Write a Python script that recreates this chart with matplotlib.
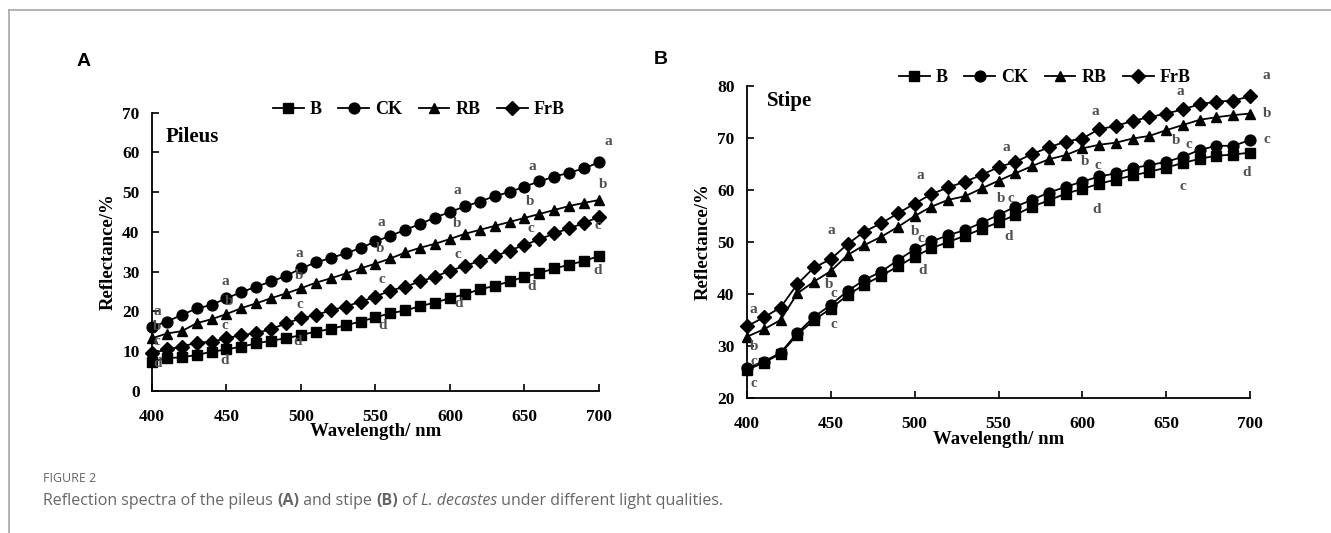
import matplotlib
matplotlib.use("Agg")
import matplotlib.pyplot as plt
from matplotlib.lines import Line2D

plt.rcParams['font.family'] = ['Liberation Serif', 'DejaVu Serif']
plt.rcParams['font.weight'] = 'bold'
plt.rcParams['axes.labelweight'] = 'bold'

# wavelength, nm
wl = [400, 410, 420, 430, 440, 450, 460, 470, 480, 490, 500, 510, 520, 530, 540, 550,
      560, 570, 580, 590, 600, 610, 620, 630, 640, 650, 660, 670, 680, 690, 700]
series_names = ['B', 'CK', 'RB', 'FrB']
markers = ['s', 'o', '^', 'D']

# Pileus reflectance (%)
B_p = [7.3, 8.2, 8.4, 9.0, 9.8, 10.4, 11.1, 11.9, 12.6, 13.2, 14.0, 14.9, 15.5, 16.5, 17.4, 18.5,
       19.5, 20.2, 21.3, 22.2, 23.3, 24.3, 25.5, 26.4, 27.5, 28.7, 29.6, 30.8, 31.7, 32.7, 33.9]
CK_p = [16.1, 17.4, 19.1, 20.7, 21.6, 23.3, 24.8, 26.2, 27.5, 28.9, 30.8, 32.3, 33.4, 34.6, 35.9, 37.6,
        39.0, 40.5, 42.0, 43.6, 45.0, 46.4, 47.6, 49.0, 50.0, 51.4, 52.7, 53.9, 54.9, 56.0, 57.5]
RB_p = [13.2, 14.4, 15.0, 17.0, 18.0, 19.3, 20.8, 22.0, 23.3, 24.5, 25.8, 27.2, 28.3, 29.5, 30.8, 32.0,
        33.3, 34.8, 36.0, 37.0, 38.2, 39.5, 40.5, 41.5, 42.5, 43.5, 44.5, 45.5, 46.5, 47.3, 48.0]
FrB_p = [9.4, 10.4, 11.1, 12.1, 12.3, 13.2, 14.0, 14.5, 15.5, 17.0, 18.2, 19.1, 20.2, 21.2, 22.4, 23.7,
         25.2, 26.2, 27.5, 28.7, 30.2, 31.4, 32.7, 33.8, 35.3, 36.7, 38.1, 39.6, 40.9, 42.2, 43.8]

# Stipe reflectance (%)
B_s = [25.4, 26.8, 28.5, 32.2, 35.0, 37.2, 39.8, 41.8, 43.5, 45.3, 47.2, 48.8, 50.0, 51.2, 52.5, 53.8,
       55.2, 56.8, 58.0, 59.3, 60.2, 61.2, 62.0, 62.8, 63.5, 64.3, 65.2, 66.0, 66.6, 66.8, 67.2]
CK_s = [25.8, 27.0, 28.7, 32.5, 35.6, 37.9, 40.6, 42.7, 44.3, 46.5, 48.6, 50.1, 51.3, 52.3, 53.7, 55.2,
        56.8, 58.1, 59.5, 60.6, 61.6, 62.6, 63.2, 64.2, 64.8, 65.4, 66.4, 67.7, 68.5, 68.5, 69.6]
RB_s = [31.8, 33.2, 35.0, 40.1, 42.4, 44.4, 47.5, 49.4, 51.0, 52.9, 55.0, 56.8, 58.1, 58.8, 60.3, 61.8,
        63.2, 64.6, 65.9, 66.7, 68.0, 68.7, 69.1, 69.9, 70.4, 71.5, 72.5, 73.5, 74.0, 74.4, 74.7]
FrB_s = [33.8, 35.5, 37.4, 41.9, 45.1, 46.7, 49.6, 52.0, 53.6, 55.5, 57.4, 59.2, 60.5, 61.6, 62.9, 64.4,
         65.4, 66.9, 68.2, 69.3, 69.9, 71.7, 72.3, 73.3, 74.0, 74.7, 75.5, 76.5, 77.0, 77.2, 78.0]

# significance letters (wavelength, reflectance, letter)
letters_p = [(403.5, 19.9, 'a'), (403.5, 16.1, 'b'), (403.5, 12.3, 'c'), (403.5, 6.9, 'd'),
             (449, 27.5, 'a'), (452, 22.4, 'b'), (449, 16.5, 'c'), (449, 7.7, 'd'),
             (499, 34.6, 'a'), (499, 29.1, 'b'), (499, 21.6, 'c'), (498, 12.3, 'd'),
             (554, 42.4, 'a'), (553, 35.9, 'b'), (554, 27.9, 'c'), (555, 16.3, 'd'),
             (605, 50.4, 'a'), (605, 42.0, 'b'), (605, 34.2, 'c'), (606, 22.0, 'd'),
             (655, 56.4, 'a'), (654, 47.6, 'b'), (654, 40.9, 'c'), (655, 26.2, 'd'),
             (706, 62.7, 'a'), (702.5, 51.8, 'b'), (699, 41.6, 'c'), (699, 30.3, 'd')]
letters_s = [(404, 37.0, 'a'), (404, 29.9, 'b'), (404, 27.0, 'c'), (404, 22.7, 'c'),
             (450, 52.2, 'a'), (449, 41.9, 'b'), (452, 40.1, 'c'), (452, 34.2, 'c'),
             (503.5, 62.7, 'a'), (500.5, 52.0, 'b'), (504, 50.7, 'c'), (504.5, 44.6, 'd'),
             (554.5, 68.2, 'a'), (551.5, 58.4, 'b'), (557.5, 58.4, 'c'), (556, 51.0, 'd'),
             (608, 75.1, 'a'), (601.5, 65.4, 'b'), (609, 64.8, 'c'), (608.5, 56.2, 'd'),
             (658.5, 78.9, 'a'), (656, 69.6, 'b'), (663.5, 68.7, 'c'), (660, 60.6, 'c'),
             (710, 82.1, 'a'), (710, 74.8, 'b'), (710, 69.8, 'c'), (698, 63.4, 'd')]

W, H = 1331, 533
fig = plt.figure(figsize=(W / 100, H / 100), dpi=100)


def px_axes(x0, x1, y_top, y_bot):
    return fig.add_axes([x0 / W, 1 - y_bot / H, (x1 - x0) / W, (y_bot - y_top) / H])


def draw_panel(ax, data, letters, ylim, yticks, title, title_pos, leg_center):
    for vals, m, name in zip(data, markers, series_names):
        ms = 6.8 if m == 'D' else 7.8
        ax.plot(wl, vals, color='black', lw=1.3, marker=m, ms=ms, label=name, clip_on=False)
    for x, y, s in letters:
        ax.text(x, y, s, color='#4f4f4f', fontsize=11, ha='center', va='center')
    ax.set_xlim(400, 700)
    ax.set_ylim(*ylim)
    ax.set_xticks([400, 450, 500, 550, 600, 650, 700])
    ax.set_yticks(yticks)
    for side in ['top', 'right']:
        ax.spines[side].set_visible(False)
    for side in ['left', 'bottom']:
        ax.spines[side].set_linewidth(1.3)
    ax.tick_params(axis='both', direction='in', length=5, width=1.2, labelsize=12.5)
    ax.tick_params(axis='x', pad=13)
    ax.tick_params(axis='y', pad=9)
    ax.set_xlabel('Wavelength/ nm', fontsize=13.5, fontweight='bold', labelpad=-1)
    ax.set_ylabel('Reflectance/%', fontsize=13.5, fontweight='bold', labelpad=4)
    ax.text(title_pos[0], title_pos[1], title, transform=ax.transAxes,
            fontsize=15, va='baseline', ha='left')
    ax.legend(loc='center', bbox_to_anchor=(leg_center[0] / W, 1 - leg_center[1] / H),
              bbox_transform=fig.transFigure, ncol=4, frameon=False,
              prop={'size': 13, 'weight': 'bold'},
              handlelength=1.7, handletextpad=0.35, columnspacing=0.9, borderpad=0)


axA = px_axes(152, 599, 112.7, 390.7)
draw_panel(axA, [B_p, CK_p, RB_p, FrB_p], letters_p, (0, 70), range(0, 71, 10),
           'Pileus', (0.031, 0.895), (419, 110))

axB = px_axes(747, 1250, 86, 398)
draw_panel(axB, [B_s, CK_s, RB_s, FrB_s], letters_s, (20, 80), range(20, 81, 10),
           'Stipe', (0.04, 0.937), (1045, 78))

# panel letters
fig.text(84 / W, 1 - 61 / H, 'A', family='Liberation Sans', fontsize=14, weight='bold',
         ha='center', va='center')
fig.text(661 / W, 1 - 60 / H, 'B', family='Liberation Sans', fontsize=14, weight='bold',
         ha='center', va='center')

# page frame
fig.add_artist(Line2D([9 / W, 1], [1 - 10 / H, 1 - 10 / H], transform=fig.transFigure,
                      color='#a6a6a6', lw=1.2))
fig.add_artist(Line2D([9 / W, 9 / W], [0, 1 - 10 / H], transform=fig.transFigure,
                      color='#a6a6a6', lw=1.2))

# caption
cap_color = '#666666'
fig.text(43 / W, 1 - 482 / H, 'FIGURE 2', family='Open Sans', fontsize=9, weight='normal',
         color=cap_color, va='baseline')
renderer = fig.canvas.get_renderer()
parts = [('Reflection spectra of the pileus ', 'normal', 'normal'),
         ('(A)', 'bold', 'normal'),
         (' and stipe ', 'normal', 'normal'),
         ('(B)', 'bold', 'normal'),
         (' of ', 'normal', 'normal'),
         ('L. decastes', 'normal', 'italic'),
         (' under different light qualities.', 'normal', 'normal')]
xpos = 43
for s, w, st in parts:
    t = fig.text(xpos / W, 1 - 505 / H, s, family='Open Sans', fontsize=11.5, weight=w,
                 style=st, color=cap_color, va='baseline')
    xpos = t.get_window_extent(renderer).x1

fig.savefig('out.png', dpi=100)
